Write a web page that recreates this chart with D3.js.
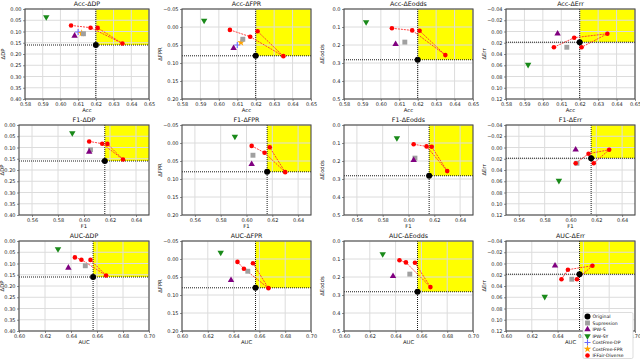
<!DOCTYPE html>
<html>
<head>
<meta charset="utf-8">
<script src="https://cdn.jsdelivr.net/npm/d3@7"></script>
<style>
  body { margin: 0; background: #fff; }
  svg { display: block; font-family: "DejaVu Sans", sans-serif; }
</style>
</head>
<body>
<svg id="chart" width="640" height="362"></svg>
<script>
const perfLabels = ["Acc", "F1", "AUC"];
const fairLabels = ["ΔDP", "ΔFPR", "ΔEodds", "ΔErr"];
const methodNames = ["Original", "Supression", "IPW-S", "IPW-SY", "CostFree-DP", "CostFree-FPR", "IFFair-Diverse"];

// baselines, in order: Original, Supression, IPW-S, IPW-SY, CostFree-DP, CostFree-FPR
const accBase = [0.620, 0.613, 0.608, 0.592, 0.610, 0.612];
const f1Base = [0.616, 0.605, 0.604, 0.591, null, null];
const aucBase = [0.657, 0.651, 0.638, 0.630, null, null];

const dpBase = [0.160, 0.110, 0.119, 0.036, 0.102, 0.108];
const fprBase = [0.080, 0.034, 0.059, -0.018, 0.050, 0.043];
const eoddsBase = [0.282, 0.184, 0.195, 0.073, null, null];
const errBase = [0.019, 0.028, 0.004, 0.059, null, null];

// IFFair-Diverse models (4 of them)
const accDiverse = [0.606, 0.617, 0.621, 0.635];
const f1Diverse = [0.604, 0.614, 0.618, 0.630];
const aucDiverse = [0.643, 0.648, 0.655, 0.667];

const dpDiverse = [0.073, 0.083, 0.084, 0.153];
const fprDiverse = [0.008, 0.027, 0.012, 0.081];
const eoddsDiverse = [0.107, 0.119, 0.121, 0.256];
const errDiverse = [0.028, 0.011, 0.028, 0.004];

// order in which the diverse points are joined
const diverseOrder = [0, 1, 3, 2];

const xDomains = [[0.58, 0.65], [0.55, 0.65], [0.60, 0.70]];
const xTicks = [
  [0.58, 0.59, 0.60, 0.61, 0.62, 0.63, 0.64, 0.65],
  [0.56, 0.58, 0.60, 0.62, 0.64],
  [0.60, 0.62, 0.64, 0.66, 0.68, 0.70]
];
const yDomains = [[0, 0.40], [-0.05, 0.20], [0, 0.5], [-0.04, 0.12]];
const yTicks = [
  [0, 0.05, 0.10, 0.15, 0.20, 0.25, 0.30, 0.35, 0.40],
  [-0.05, 0, 0.05, 0.10, 0.15, 0.20],
  [0, 0.1, 0.2, 0.3, 0.4, 0.5],
  [-0.04, -0.02, 0, 0.02, 0.04, 0.06, 0.08, 0.10, 0.12]
];
const yFormats = [".2f", ".2f", ".1f", ".2f"];

const perfBase = [accBase, f1Base, aucBase];
const perfDiverse = [accDiverse, f1Diverse, aucDiverse];
const fairBase = [dpBase, fprBase, eoddsBase, errBase];
const fairDiverse = [dpDiverse, fprDiverse, eoddsDiverse, errDiverse];

// marker styles
const colors = ["#000000", "#a0a0a0", "#800080", "#1a8a1a", "#6a6aff", "#ffa500", "#ff0000"];

const svg = d3.select("#chart");

const rowTop = [9, 125, 241], plotH = 90;
const colLeft = [19, 182, 344, 506], colRight = [149, 311, 473, 635];

const marker = (g, m, cx, cy) => {
  const t = `translate(${cx},${cy})`;
  if (m === 0) {
    g.append("circle").attr("cx", cx).attr("cy", cy).attr("r", 3).attr("fill", colors[0]);
  } else if (m === 1) {
    g.append("path").attr("d", d3.symbol(d3.symbolSquare, 24)()).attr("transform", t).attr("fill", colors[1]);
  } else if (m === 2) {
    g.append("path").attr("d", d3.symbol(d3.symbolTriangle, 18)()).attr("transform", t).attr("fill", colors[2]);
  } else if (m === 3) {
    g.append("path").attr("d", d3.symbol(d3.symbolTriangle, 18)()).attr("transform", t + " rotate(180)").attr("fill", colors[3]);
  } else if (m === 4) {
    g.append("path").attr("d", "M-3,0H3M0,-3V3").attr("transform", t)
      .attr("stroke", colors[4]).attr("stroke-width", 1.1).attr("fill", "none");
  } else if (m === 5) {
    g.append("path").attr("d", d3.symbol(d3.symbolStar, 18)()).attr("transform", t).attr("fill", colors[5]);
  } else {
    g.append("circle").attr("cx", cx).attr("cy", cy).attr("r", 2.3).attr("fill", colors[6]);
  }
};

perfLabels.forEach((pLab, r) => {
  fairLabels.forEach((fLab, c) => {
    const left = (r === 0 && c === 0) ? 25 : colLeft[c];
    const right = colRight[c];
    const top = rowTop[r], bottom = top + plotH;

    const x = d3.scaleLinear().domain(xDomains[r]).range([left, right]);
    const y = d3.scaleLinear().domain(yDomains[c]).range([top, bottom]);

    const g = svg.append("g");
    const xs = perfBase[r], ys = fairBase[c];
    const ox = x(xs[0]), oy = y(ys[0]);

    // yellow "better than original" region
    g.append("rect").attr("x", ox).attr("y", top)
      .attr("width", right - ox).attr("height", oy - top).attr("fill", "#ffff00");

    // grid
    g.append("g").selectAll("line").data(xTicks[r]).join("line")
      .attr("x1", d => x(d)).attr("x2", d => x(d)).attr("y1", top).attr("y2", bottom)
      .attr("stroke", "#dcdcdc").attr("stroke-width", 1);
    g.append("g").selectAll("line").data(yTicks[c]).join("line")
      .attr("y1", d => y(d)).attr("y2", d => y(d)).attr("x1", left).attr("x2", right)
      .attr("stroke", "#dcdcdc").attr("stroke-width", 1);

    // reference lines through Original
    g.append("line").attr("x1", ox).attr("x2", ox).attr("y1", top).attr("y2", bottom)
      .attr("stroke", "#000").attr("stroke-width", 0.9).attr("stroke-dasharray", "1,1");
    g.append("line").attr("y1", oy).attr("y2", oy).attr("x1", left).attr("x2", right)
      .attr("stroke", "#000").attr("stroke-width", 0.9).attr("stroke-dasharray", "1,1");

    // axes
    const xAxis = d3.axisBottom(x).tickValues(xTicks[r]).tickFormat(d3.format(".2f")).tickSize(2).tickPadding(1.5);
    const yAxis = d3.axisLeft(y).tickValues(yTicks[c]).tickFormat(d3.format(yFormats[c])).tickSize(2).tickPadding(1.5);
    const gx = g.append("g").attr("transform", `translate(0,${bottom})`).call(xAxis);
    const gy = g.append("g").attr("transform", `translate(${left},0)`).call(yAxis);
    [gx, gy].forEach(a => {
      a.select(".domain").remove();
      a.selectAll("text").attr("font-size", 5).attr("fill", "#222").attr("font-family", "DejaVu Sans");
      a.selectAll("line").attr("stroke", "#444").attr("stroke-width", 0.6);
    });
    // the legend covers this label in the last panel
    if (r === 2 && c === 3) {
      gx.selectAll(".tick text").filter(d => d > 0.67 && d < 0.69).remove();
    }

    // IFFair-Diverse line + points
    const dx = perfDiverse[r], dy = fairDiverse[c];
    const line = d3.line().x(i => x(dx[i])).y(i => y(dy[i]));
    g.append("path").attr("d", line(diverseOrder)).attr("fill", "none")
      .attr("stroke", "#ff3030").attr("stroke-width", 0.9).attr("stroke-dasharray", "2,1");

    // baseline markers
    [4, 5, 1, 2, 3].forEach(m => {
      if (xs[m] == null || ys[m] == null) return;
      marker(g, m, x(xs[m]), y(ys[m]));
    });
    dx.forEach((v, i) => marker(g, 6, x(v), y(dy[i])));
    marker(g, 0, ox, oy);

    // frame
    g.append("rect").attr("x", left).attr("y", top).attr("width", right - left).attr("height", plotH)
      .attr("fill", "none").attr("stroke", "#4a4a4a").attr("stroke-width", 1.1);

    // texts
    g.append("text").attr("x", (left + right) / 2).attr("y", top - 3)
      .attr("text-anchor", "middle").attr("font-size", 6.3).attr("fill", "#111")
      .text(`${pLab}-${fLab}`);
    g.append("text").attr("x", (left + right) / 2).attr("y", bottom + 13)
      .attr("text-anchor", "middle").attr("font-size", 5.3).attr("fill", "#111").text(pLab);
    const lx = (c === 0 && r > 0) ? left - 15 : left - 20;
    g.append("text").attr("transform", `translate(${lx},${(top + bottom) / 2}) rotate(-90)`)
      .attr("text-anchor", "middle").attr("font-size", 5.3).attr("fill", "#111").text(fLab);
  });
});

// legend (bottom-right panel)
const lg = svg.append("g");
lg.append("rect").attr("x", 583).attr("y", 312.5).attr("width", 50).attr("height", 46)
  .attr("rx", 1.5).attr("fill", "#fff").attr("stroke", "#cfcfcf").attr("stroke-width", 0.7);
methodNames.forEach((name, i) => {
  const yy = 316.5 + i * 6.5;
  marker(lg, i, 587.5, yy);
  lg.append("text").attr("x", 592.5).attr("y", yy + 1.7)
    .attr("font-size", 4.6).attr("fill", "#111").text(name);
});
</script>
</body>
</html>
